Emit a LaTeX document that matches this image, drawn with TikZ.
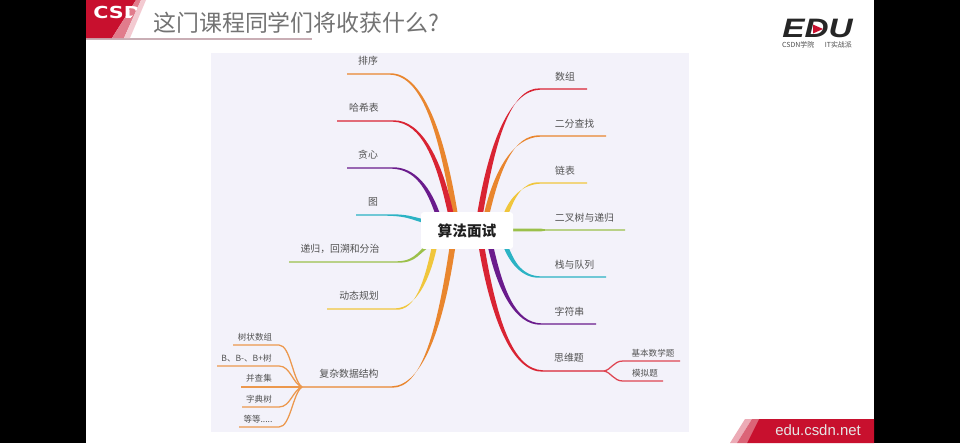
\documentclass[tikz,border=0pt]{standalone}
\usepackage{fontspec}
\setmainfont{Noto Sans CJK SC}
\newfontfamily\latinsans{Liberation Sans}
\newfontfamily\widesans{DejaVu Sans}
\usetikzlibrary{calc}
\pgfdeclarelayer{back}
\pgfdeclarelayer{branches}
\pgfsetlayers{back,branches,main}
\definecolor{mRed}{HTML}{D92433}
\definecolor{mOrange}{HTML}{E9862E}
\definecolor{mYellow}{HTML}{F0C63C}
\definecolor{mGreen}{HTML}{9BC04A}
\definecolor{mTeal}{HTML}{2BB3C4}
\definecolor{mPurple}{HTML}{6A1B8C}
\definecolor{csdnRed}{HTML}{C8102E}
\definecolor{paper}{HTML}{F3F2FA}
\definecolor{rule}{HTML}{C9AEB5}
\tikzset{
  x=0.75pt,y=-0.75pt,
  lab/.style={font=\fontsize{7.4pt}{8pt}\selectfont,text=black!68,inner sep=0pt},
  sublab/.style={font=\fontsize{6.4pt}{7pt}\selectfont,text=black!68,inner sep=0pt},
  twig/.style={line width=0.95pt,color=#1!85!white},
}
% colour, far end, bend, hub point, half width at the hub
\newcommand{\limb}[5]{%
  \coordinate (cA) at ($(#3)!.5!(#4|-#3)$);
  \coordinate (cBx) at ($(#3)!.8!(#4|-#3)$);
  \coordinate (cBy) at ($(#3)!.42!(#3|-#4)$);
  \coordinate (cB) at (cBx|-cBy);
  \fill[#1] ($(#2)+(0,-.6)$) -- ($(#3)+(0,-.7)$)
    .. controls ($(cA)+(0,-1.5)$) and ($(cB)+(#5*1.05,0)$) .. ($(#4)+(#5,0)$)
    -- ($(#4)+(-#5,0)$)
    .. controls ($(cB)+(-#5*1.05,0)$) and ($(cA)+(0,1.5)$) .. ($(#3)+(0,.7)$)
    -- ($(#2)+(0,.6)$) -- cycle;
}
% same, for the branches that meet the hub from the side
\newcommand{\limbside}[5]{%
  \coordinate (cA) at ($(#3)!.55!(#4|-#3)$);
  \coordinate (cC) at ($(#4)!.45!(#3)$);
  \fill[#1] ($(#2)+(0,-.6)$) -- ($(#3)+(0,-.7)$)
    .. controls ($(cA)+(0,-1.1)$) and ($(cC)+(0,-#5*.9)$) .. ($(#4)+(0,-#5)$)
    -- ($(#4)+(0,#5)$)
    .. controls ($(cC)+(0,#5*.9)$) and ($(cA)+(0,1.1)$) .. ($(#3)+(0,.7)$)
    -- ($(#2)+(0,.6)$) -- cycle;
}
\newcommand{\twigto}[4]{%
  \coordinate (tBx) at ($(#3)!.6!(#4|-#3)$);
  \coordinate (tBy) at ($(#3)!.85!(#3|-#4)$);
  \draw[twig=#1] (#2) -- (#3) .. controls ($(#3)!.5!(#4|-#3)$) and (tBx|-tBy) .. (#4);
}
\begin{document}
\begin{tikzpicture}
\useasboundingbox (0,0) rectangle (960,443);

% the mind map's centre
\node[fill=white,rounded corners=2pt,minimum width=69pt,minimum height=27.5pt,inner sep=0pt,
  font=\fontsize{11pt}{12pt}\selectfont\bfseries,text=black!88] (hub) at (467,230.5) {算法面试};

% labels
\node[lab] (lPaixu) at (368,61) {排序};
\node[lab] (lHash) at (364,108) {哈希表};
\node[lab] (lTanxin) at (368,155) {贪心};
\node[lab] (lTu) at (373,202) {图};
\node[lab] (lDigui) at (340,249) {递归，回溯和分治};
\node[lab] (lDp) at (359,296) {动态规划};
\node[lab] (lFuza) at (349,374) {复杂数据结构};
\node[sublab] (lShu) at (255,337.5) {树状数组};
\node[sublab] (lB) at (246.5,358) {B、B-、B+树};
\node[sublab] (lBing) at (259,378.5) {并查集};
\node[sublab] (lZi) at (259,399) {字典树};
\node[sublab] (lDeng) at (258,419) {等等.....};
\node[lab] (rShuzu) at (565,77) {数组};
\node[lab] (rErfen) at (574.5,124) {二分查找};
\node[lab] (rLian) at (565,171) {链表};
\node[lab] (rErcha) at (584.5,217.5) {二叉树与递归};
\node[lab] (rZhan) at (574.5,264.5) {栈与队列};
\node[lab] (rZifu) at (569.5,311.5) {字符串};
\node[lab] (rSiwei) at (569,358) {思维题};
\node[sublab] (rJiben) at (653,353) {基本数学题};
\node[sublab] (rMoni) at (645,373) {模拟题};

\begin{pgfonlayer}{back}
  \fill[black] (0,0) rectangle (960,443);
  \fill[white] (86,0) rectangle (874,443);
  \fill[paper] (211,53) rectangle (689,432);
\end{pgfonlayer}

\begin{pgfonlayer}{branches}
  % hub attachment points
  \coordinate (hTa) at ($(hub.north west)+(34.5,4)$);
  \coordinate (hTb) at ($(hub.north west)+(30.5,4)$);
  \coordinate (hTc) at ($(hub.north west)+(17.5,4)$);
  \coordinate (hLa) at ($(hub.north west)+(12,11)$);
  \coordinate (hLb) at ($(hub.south west)+(14,-8)$);
  \coordinate (hBa) at ($(hub.south west)+(14,-4)$);
  \coordinate (hBb) at ($(hub.south west)+(32,-4)$);
  \coordinate (hRa) at ($(hub.north east)+(-33.5,4)$);
  \coordinate (hRb) at ($(hub.north east)+(-27,4)$);
  \coordinate (hRc) at ($(hub.north east)+(-8,4)$);
  \coordinate (hRe) at ($(hub.south east)+(-8,-4)$);
  \coordinate (hRf) at ($(hub.south east)+(-23,-4)$);
  \coordinate (hRg) at ($(hub.south east)+(-32,-4)$);
  \coordinate (hRd) at ($(hub.east)+(-2,-0.5)$);

  % left side
  \coordinate (ePaixu) at (347,74); \coordinate (bPaixu) at (390,74);
  \limb{mOrange}{ePaixu}{bPaixu}{hTa}{2.8}
  \coordinate (eHash) at (337,121); \coordinate (bHash) at (393,121);
  \limb{mRed}{eHash}{bHash}{hTb}{2.8}
  \coordinate (eTan) at (347,168); \coordinate (bTan) at (392,168);
  \limb{mPurple}{eTan}{bTan}{hTc}{2.4}
  \coordinate (eTu) at (356,215); \coordinate (bTu) at (386,215);
  \limbside{mTeal}{eTu}{bTu}{hLa}{2}
  \coordinate (eDigui) at (289,262); \coordinate (bDigui) at (397,262);
  \limbside{mGreen}{eDigui}{bDigui}{hLb}{2.4}
  \coordinate (eDp) at (327,309); \coordinate (bDp) at (396,309);
  \limb{mYellow}{eDp}{bDp}{hBa}{2.6}
  \coordinate (eFuza) at (302,387); \coordinate (bFuza) at (392,387);
  \limb{mOrange}{eFuza}{bFuza}{hBb}{2.9}

  % right side
  \coordinate (eShuzu) at (587,89); \coordinate (bShuzu) at (540,89);
  \limb{mRed}{eShuzu}{bShuzu}{hRa}{2.9}
  \coordinate (eErfen) at (606,136); \coordinate (bErfen) at (540,136);
  \limb{mOrange}{eErfen}{bErfen}{hRb}{2.8}
  \coordinate (eLian) at (587,183); \coordinate (bLian) at (540,183);
  \limb{mYellow}{eLian}{bLian}{hRc}{2.5}
  \coordinate (eErcha) at (625,230);
  \fill[mGreen] ($(hRd)+(0,-1.5)$) -- ($(hRd)+(30,-1.3)$) -- ($(hRd)+(34,-.7)$) -- ($(eErcha)+(0,-.6)$)
    -- ($(eErcha)+(0,.6)$) -- ($(hRd)+(34,.7)$) -- ($(hRd)+(30,1.3)$) -- ($(hRd)+(0,1.5)$) -- cycle;
  \coordinate (eZhan) at (606,277); \coordinate (bZhan) at (540,277);
  \limb{mTeal}{eZhan}{bZhan}{hRe}{2.5}
  \coordinate (eZifu) at (596,324); \coordinate (bZifu) at (541,324);
  \limb{mPurple}{eZifu}{bZifu}{hRf}{2.8}
  \coordinate (eSiwei) at (604,371); \coordinate (bSiwei) at (543,371);
  \limb{mRed}{eSiwei}{bSiwei}{hRg}{2.9}

  % twigs, right
  \coordinate (eJiben) at (680,361); \coordinate (bJiben) at (623,361);
  \twigto{mRed}{eJiben}{bJiben}{eSiwei}
  \coordinate (eMoni) at (663,381); \coordinate (bMoni) at (623,381);
  \twigto{mRed}{eMoni}{bMoni}{eSiwei}

  % twigs, left
  \coordinate (eShu) at (233,345); \coordinate (bShu) at (279,345);
  \twigto{mOrange}{eShu}{bShu}{eFuza}
  \coordinate (eB) at (217,366); \coordinate (bB) at (279,366);
  \twigto{mOrange}{eB}{bB}{eFuza}
  \coordinate (eBing) at (241,387);
  \draw[twig=mOrange] (eBing) -- (eFuza);
  \coordinate (eZi) at (242,407); \coordinate (bZi) at (279,407);
  \twigto{mOrange}{eZi}{bZi}{eFuza}
  \coordinate (eDeng) at (239,427); \coordinate (bDeng) at (279,427);
  \twigto{mOrange}{eDeng}{bDeng}{eFuza}
\end{pgfonlayer}

% header
\fill[rule] (86,38) rectangle (312,39.5);
\fill[csdnRed] (86,0) -- (136,0) -- (112,38) -- (86,38) -- cycle;
\fill[csdnRed!55!white] (136,0) -- (141,0) -- (124,38) -- (112,38) -- cycle;
\fill[csdnRed!22!white] (141,0) -- (146,0) -- (130,38) -- (124,38) -- cycle;
\begin{scope}
  \clip (86,0) -- (142,0) -- (129,20) -- (86,20) -- cycle;
  \node[font=\widesans\fontsize{12.4pt}{13pt}\selectfont\bfseries,text=white,anchor=west,inner sep=0pt,xscale=1.25] (logoCsd) at (93,12) {CSDN};
\end{scope}
\node[font=\fontsize{17.2pt}{18pt}\selectfont,text=black!55,anchor=west,inner sep=0pt] (title) at (153,23) {这门课程同学们将收获什么?};

% EDU logo
\node[font=\latinsans\fontsize{20pt}{21pt}\selectfont\bfseries\itshape,text=black!85,inner sep=0pt,xscale=1.25] (logoEdu) at (817.5,28.5) {EDU};
\fill[csdnRed] (813,24.5) -- (823,29) -- (813,33.5) -- cycle;
\node[font=\fontsize{5.2pt}{6pt}\selectfont,text=black!70,inner sep=0pt] (logoSub) at (817,45) {CSDN学院\hspace{8pt}IT实战派};

% footer
\fill[csdnRed!35!white] (745,419) -- (752,419) -- (737,443) -- (730,443) -- cycle;
\fill[csdnRed!65!white] (752,419) -- (759,419) -- (747,443) -- (737,443) -- cycle;
\fill[csdnRed] (759,419) -- (874,419) -- (874,443) -- (747,443) -- cycle;
\node[font=\latinsans\fontsize{11.2pt}{12pt}\selectfont,text=white!90!black,inner sep=0pt] (url) at (818,430) {edu.csdn.net};
\end{tikzpicture}
\end{document}
